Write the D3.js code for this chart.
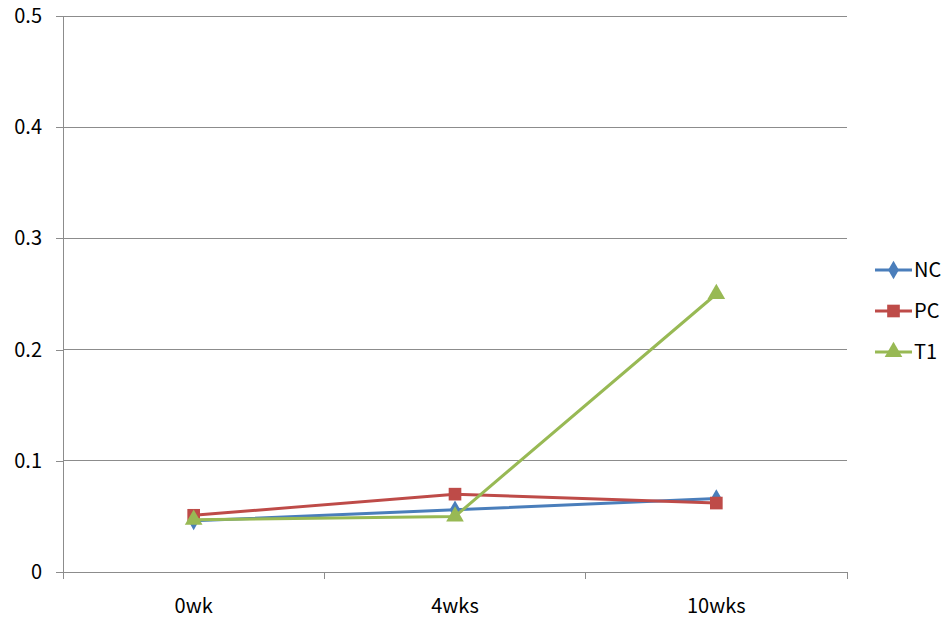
<!DOCTYPE html>
<html>
<head>
<meta charset="utf-8">
<script src="https://cdn.jsdelivr.net/npm/d3@7"></script>
<style>
  html, body { margin: 0; padding: 0; background: #fff; }
  text { font-family: "Noto Sans CJK KR", "Noto Sans", sans-serif; fill: #000; }
</style>
</head>
<body>
<svg id="chart" width="950" height="621"></svg>
<script>
// Time points and measured values per group
const categories = ["0wk", "4wks", "10wks"];
const seriesNames = ["NC", "PC", "T1"];
const ncValues = [0.046, 0.056, 0.066];
const pcValues = [0.051, 0.070, 0.062];
const t1Values = [0.047, 0.050, 0.250];
const yTicks = [0, 0.1, 0.2, 0.3, 0.4, 0.5];

const seriesColors = ["#4A7EBB", "#BE4B48", "#98B954"];
const seriesShapes = [d3.symbolDiamond, d3.symbolSquare, d3.symbolTriangle];
const series = [ncValues, pcValues, t1Values].map((vals, i) => ({
  name: seriesNames[i], values: vals, color: seriesColors[i], shape: seriesShapes[i]
}));
const markerSize = s => s === d3.symbolTriangle ? 135 : s === d3.symbolSquare ? 160 : 100;

const svg = d3.select("#chart");
const plot = { left: 63, right: 847, top: 16, bottom: 572 };

const x = d3.scaleBand().domain(categories).range([plot.left, plot.right]);
const y = d3.scaleLinear().domain([0, 0.5]).range([plot.bottom, plot.top]);

// Horizontal gridlines
svg.append("g")
  .selectAll("line")
  .data(yTicks.slice(1))
  .join("line")
  .attr("x1", plot.left).attr("x2", plot.right)
  .attr("y1", d => y(d)).attr("y2", d => y(d))
  .attr("stroke", "#8c8c8c").attr("stroke-width", 1)
  .attr("shape-rendering", "crispEdges");

// Y axis
const yAxis = svg.append("g")
  .attr("transform", `translate(${plot.left},0)`)
  .call(d3.axisLeft(y).tickValues(yTicks).tickFormat(d => d === 0 ? "0" : d3.format(".1f")(d)).tickSize(7).tickPadding(14));
yAxis.select(".domain").attr("stroke", "#8c8c8c").attr("shape-rendering", "crispEdges");
yAxis.selectAll(".tick line").attr("stroke", "#8c8c8c").attr("shape-rendering", "crispEdges");
yAxis.selectAll("text").style("font-size", "20px").attr("fill", "#000");

// X axis with ticks at category boundaries
const xAxis = svg.append("g").attr("transform", `translate(0,${plot.bottom})`);
xAxis.append("line")
  .attr("x1", plot.left).attr("x2", plot.right)
  .attr("stroke", "#8c8c8c").attr("shape-rendering", "crispEdges");
const boundaries = categories.map(c => x(c)).concat([x(categories[categories.length - 1]) + x.bandwidth()]);
xAxis.selectAll("line.tick")
  .data(boundaries)
  .join("line")
  .attr("class", "tick")
  .attr("x1", d => d).attr("x2", d => d)
  .attr("y1", 0).attr("y2", 7)
  .attr("stroke", "#8c8c8c").attr("shape-rendering", "crispEdges");
xAxis.selectAll("text")
  .data(categories)
  .join("text")
  .attr("x", d => x(d) + x.bandwidth() / 2)
  .attr("y", 41)
  .attr("text-anchor", "middle")
  .style("font-size", "20px")
  .text(d => d);

// Series lines and markers
const cx = c => x(c) + x.bandwidth() / 2;
const line = d3.line().x((d, i) => cx(categories[i])).y(d => y(d));

series.forEach(s => {
  const g = svg.append("g");
  g.append("path")
    .datum(s.values)
    .attr("d", line)
    .attr("fill", "none")
    .attr("stroke", s.color)
    .attr("stroke-width", 3)
    .attr("stroke-linejoin", "round");
  g.selectAll("path.m")
    .data(s.values)
    .join("path")
    .attr("class", "m")
    .attr("transform", (d, i) => `translate(${cx(categories[i])},${y(d)})`)
    .attr("d", d3.symbol().type(s.shape).size(markerSize(s.shape)))
    .attr("fill", s.color);
});

// Legend
const legend = svg.append("g");
series.forEach((s, i) => {
  const ly = 270 + i * 41;
  legend.append("line")
    .attr("x1", 875).attr("x2", 912)
    .attr("y1", ly).attr("y2", ly)
    .attr("stroke", s.color).attr("stroke-width", 3);
  legend.append("path")
    .attr("transform", `translate(893.5,${ly})`)
    .attr("d", d3.symbol().type(s.shape).size(markerSize(s.shape)))
    .attr("fill", s.color);
  legend.append("text")
    .attr("x", 914).attr("y", ly)
    .attr("dy", "0.35em")
    .style("font-size", "20px")
    .text(s.name);
});
</script>
</body>
</html>
